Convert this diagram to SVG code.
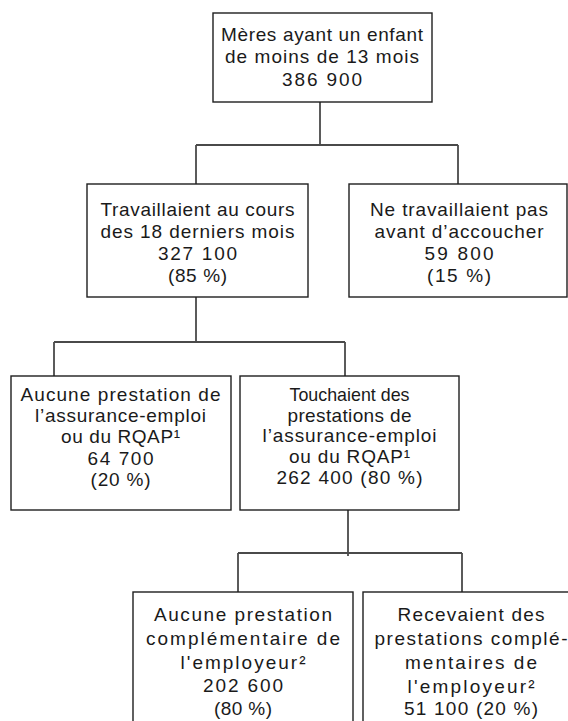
<svg xmlns="http://www.w3.org/2000/svg" width="568" height="721" viewBox="0 0 568 721">
<style>
.box{fill:#fff;stroke:#1e1e1e;stroke-width:1.4}
.conn{fill:none;stroke:#4a4a4a;stroke-width:1.8}
text{font-family:"Liberation Sans",Arial,sans-serif;font-size:19px;fill:#1a1a1a;text-anchor:middle}
</style>
<rect width="568" height="721" fill="#fff"/>
<g id="connectors">
<path class="conn" d="M320 102V145M196 145H458M196 145V184M458 145V184"/>
<path class="conn" d="M196 297V342M54 342H345M54 342V376M345 342V376"/>
<path class="conn" d="M348 510V556M238 553H462M238 553V592M462 553V592"/>
</g>
<g id="n1">
<rect class="box" x="213" y="13" width="219" height="89"/>
<text x="322" y="40.5" textLength="202" lengthAdjust="spacing">Mères ayant un enfant</text>
<text x="322" y="63" textLength="194" lengthAdjust="spacing">de moins de 13 mois</text>
<text x="322" y="86" textLength="80" lengthAdjust="spacing">386 900</text>
</g>
<g id="n2">
<rect class="box" x="87" y="184" width="221" height="113"/>
<text x="197.5" y="215.5" textLength="194" lengthAdjust="spacing">Travaillaient au cours</text>
<text x="197.5" y="237.5" textLength="194" lengthAdjust="spacing">des 18 derniers mois</text>
<text x="197.5" y="260" textLength="79" lengthAdjust="spacing">327 100</text>
<text x="197.5" y="282" textLength="59" lengthAdjust="spacing">(85 %)</text>
</g>
<g id="n3">
<rect class="box" x="349" y="184" width="218" height="113"/>
<text x="459" y="215.5" textLength="178" lengthAdjust="spacing">Ne travaillaient pas</text>
<text x="459" y="237.5" textLength="169" lengthAdjust="spacing">avant d’accoucher</text>
<text x="459" y="260" textLength="69" lengthAdjust="spacing">59 800</text>
<text x="459" y="282" textLength="64" lengthAdjust="spacing">(15 %)</text>
</g>
<g id="n4">
<rect class="box" x="11" y="376" width="220" height="134"/>
<text x="120.5" y="401" textLength="200" lengthAdjust="spacing">Aucune prestation de</text>
<text x="120.5" y="422" textLength="171" lengthAdjust="spacing">l’assurance-emploi</text>
<text x="120.5" y="443" textLength="119" lengthAdjust="spacing">ou du RQAP¹</text>
<text x="120.5" y="465" textLength="66" lengthAdjust="spacing">64 700</text>
<text x="120.5" y="486" textLength="60" lengthAdjust="spacing">(20 %)</text>
</g>
<g id="n5">
<rect class="box" x="240" y="376" width="219" height="134"/>
<text x="349.5" y="400.5" textLength="120" lengthAdjust="spacingAndGlyphs">Touchaient des</text>
<text x="349.5" y="421.5" textLength="124" lengthAdjust="spacing">prestations de</text>
<text x="349.5" y="442" textLength="174" lengthAdjust="spacing">l’assurance-emploi</text>
<text x="349.5" y="463" textLength="121" lengthAdjust="spacing">ou du RQAP¹</text>
<text x="349.5" y="484" textLength="146" lengthAdjust="spacing">262 400 (80 %)</text>
</g>
<g id="n6">
<rect class="box" x="133" y="592" width="220" height="140"/>
<text x="243" y="621" textLength="178" lengthAdjust="spacing">Aucune prestation</text>
<text x="243" y="645" textLength="194" lengthAdjust="spacing">complémentaire de</text>
<text x="243" y="668.5" textLength="125" lengthAdjust="spacing">l'employeur²</text>
<text x="243" y="692" textLength="80" lengthAdjust="spacing">202 600</text>
<text x="243" y="715" textLength="58" lengthAdjust="spacing">(80 %)</text>
</g>
<g id="n7">
<rect class="box" x="363" y="592" width="220" height="140"/>
<text x="471" y="621" textLength="147" lengthAdjust="spacing">Recevaient des</text>
<text x="471" y="645" textLength="193" lengthAdjust="spacing">prestations complé-</text>
<text x="471" y="669" textLength="132" lengthAdjust="spacing">mentaires de</text>
<text x="471" y="693" textLength="127" lengthAdjust="spacing">l'employeur²</text>
<text x="471" y="715" textLength="134" lengthAdjust="spacing">51 100 (20 %)</text>
</g>
</svg>
